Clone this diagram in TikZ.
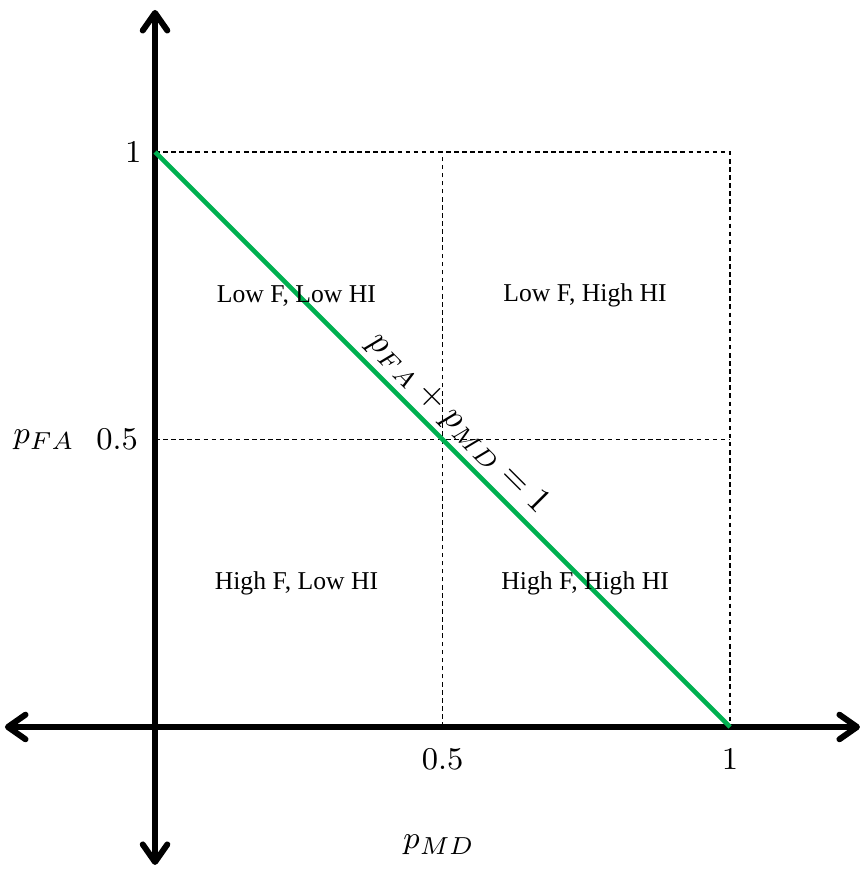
\documentclass[tikz,border=0pt]{standalone}
\usepackage{fontspec}
\setmainfont{Liberation Serif}
\usetikzlibrary{arrows.meta}
\definecolor{figline}{RGB}{0,0,0}
\definecolor{figgreen}{RGB}{0,176,80}
\tikzset{
  ax/.style   ={draw=figline, line width=1.7pt, {Straight Barb[round,length=5pt,width=7pt]}-{Straight Barb[round,length=5pt,width=7pt]}},
  grd/.style  ={draw=figline, line width=0.35pt, dash pattern=on 1.3pt off 1pt},
  lin/.style  ={draw=figgreen, line width=1.3pt},
  lab/.style  ={font=\fontsize{9.5}{11}\selectfont, inner sep=1pt},
  labb/.style ={font=\fontsize{10}{12}\selectfont, inner sep=1.5pt},
  reg/.style  ={font=\fontsize{7.3}{9}\selectfont, inner sep=1pt},
}

\begin{document}
\begin{tikzpicture}[x=5.75cm, y=5.75cm]
  \useasboundingbox (-0.2696,-0.2522) rectangle (1.2348,1.2643);
  % corners of the unit square
  \coordinate (o)  at (0,0);
  \coordinate (x1) at (1,0);
  \coordinate (y1) at (0,1);
  \coordinate (xy) at (1,1);
  \coordinate (xh) at (0.5,0);
  \coordinate (yh) at (0,0.5);
  \coordinate (xht) at (0.5,1);
  \coordinate (yhr) at (1,0.5);
  % axis ends
  \coordinate (xl) at (-0.261,0);
  \coordinate (xr) at (1.226,0);
  \coordinate (yb) at (0,-0.240);
  \coordinate (yt) at (0,1.247);
  % dashed grid
  \draw[grd] (y1) -- (xy) -- (x1);
  \draw[grd] (xh) -- (xht);
  \draw[grd] (yh) -- (yhr);
  % axes
  \draw[ax] (xl) -- (xr);
  \draw[ax] (yb) -- (yt);
  % the line
  \draw[lin] (y1) -- node[labb, sloped, above, pos=0.5] (sum) {$p_{FA}+p_{MD}=1$} (x1);
  % tick labels
  \node[lab] (ly1) at (-0.038,1) {$1$};
  \node[lab] (lyh) at (-0.066,0.5) {$0.5$};
  \node[lab] (lyp) at (-0.193,0.5) {$p_{FA}$};
  \node[lab] (lxh) at (0.5,-0.057) {$0.5$};
  \node[lab] (lx1) at (1,-0.057) {$1$};
  \node[lab] (lxp) at (0.494,-0.205) {$p_{MD}$};
  % regions
  \node[reg] (ll) at (0.246,0.75) {Low F, Low HI};
  \node[reg] (lh) at (0.748,0.75) {Low F, High HI};
  \node[reg] (hl) at (0.246,0.25) {High F, Low HI};
  \node[reg] (hh) at (0.748,0.25) {High F, High HI};
\end{tikzpicture}
\end{document}
